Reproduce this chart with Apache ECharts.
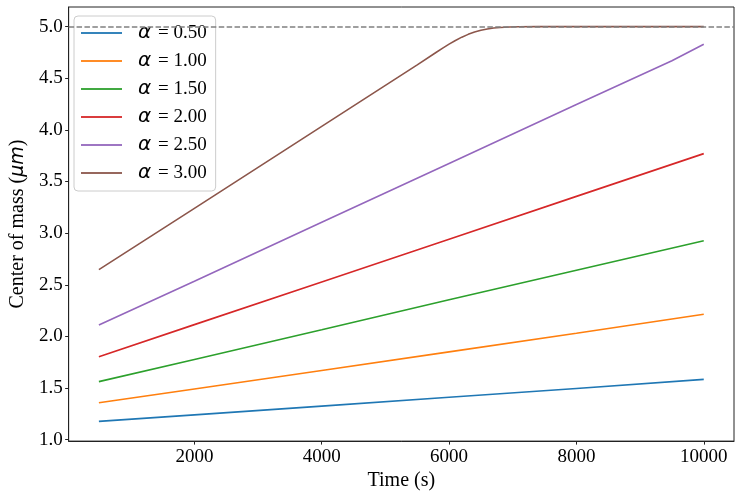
<!DOCTYPE html>
<html>
<head>
<meta charset="utf-8">
<script src="https://cdn.jsdelivr.net/npm/echarts@6/dist/echarts.min.js"></script>
<style>html,body{margin:0;padding:0;background:#fff}#c{width:741px;height:496px}</style>
</head>
<body>
<div id="c"></div>
<script>
const alphaLabels = ['0.50', '1.00', '1.50', '2.00', '2.50', '3.00'];
const xTicks = [2000, 4000, 6000, 8000, 10000];
const yTicks = [1.0, 1.5, 2.0, 2.5, 3.0, 3.5, 4.0, 4.5, 5.0];
const targetCenter = 5.0;

const tLinear = [500, 2000, 4000, 6000, 8000, 10000];
const alpha050 = [1.177, 1.240, 1.325, 1.410, 1.495, 1.584];
const alpha100 = [1.358, 1.490, 1.670, 1.850, 2.030, 2.214];
const alpha150 = [1.562, 1.777, 2.065, 2.355, 2.640, 2.927];
const alpha200 = [1.804, 2.114, 2.527, 2.940, 3.356, 3.770];
const tAlpha250 = [500, 2000, 4000, 6000, 8000, 9500, 10000];
const alpha250 = [2.111, 2.535, 3.105, 3.675, 4.245, 4.670, 4.829];
const tAlpha300 = [500, 2000, 4000, 5500, 5800, 5900, 6000, 6100, 6200, 6300, 6400, 6500, 6600, 6700, 6800, 6950, 7100, 7400, 8000, 10000];
const alpha300 = [2.646, 3.240, 4.034, 4.629, 4.752, 4.792, 4.830, 4.866, 4.898, 4.925, 4.947, 4.964, 4.977, 4.986, 4.992, 4.997, 4.999, 5.0, 5.0, 5.0];

const colors = ['#1f77b4', '#ff7f0e', '#2ca02c', '#d62728', '#9467bd', '#8c564b'];
const serif = "'Liberation Serif', 'Times New Roman', serif";

function pairs(xs, ys) { return xs.map((x, i) => [x, ys[i]]); }
const seriesData = [
  pairs(tLinear, alpha050),
  pairs(tLinear, alpha100),
  pairs(tLinear, alpha150),
  pairs(tLinear, alpha200),
  pairs(tAlpha250, alpha250),
  pairs(tAlpha300, alpha300)
];

const series = seriesData.map((d, i) => ({
  name: alphaLabels[i],
  type: 'line',
  data: d,
  symbol: 'none',
  showSymbol: false,
  smooth: false,
  lineStyle: { color: colors[i], width: 1.6 },
  itemStyle: { color: colors[i] },
  z: 2
}));
series[5].markLine = {
  silent: true,
  symbol: 'none',
  label: { show: false },
  lineStyle: { color: '#808080', type: [5.5, 2.4], width: 1.5 },
  data: [{ yAxis: targetCenter }],
  animation: false
};

const chart = echarts.init(document.getElementById('c'), null, { renderer: 'canvas' });
chart.setOption({
  animation: false,
  backgroundColor: '#fff',
  grid: { left: 64, top: 7, right: 7, bottom: 54, show: true, borderColor: '#222', borderWidth: 1, backgroundColor: 'transparent' },
  xAxis: {
    type: 'value', min: 25, max: 10475,
    name: 'Time (s)', nameLocation: 'middle', nameGap: 25,
    nameTextStyle: { fontFamily: serif, fontSize: 20, color: '#000' },
    axisLine: { show: true, onZero: false, lineStyle: { color: '#222', width: 1 } },
    axisTick: { show: true, length: 3.5, customValues: xTicks, lineStyle: { color: '#222' } },
    axisLabel: { customValues: xTicks, formatter: v => String(v), fontFamily: serif, fontSize: 19, color: '#000', margin: 6 },
    splitLine: { show: false }
  },
  yAxis: {
    type: 'value', min: 0.986, max: 5.19,
    name: '{t|Center of mass (}{i|μm}{t|)}', nameLocation: 'middle', nameGap: 40,
    nameTextStyle: {
      rich: {
        t: { fontFamily: serif, fontSize: 20, color: '#000' },
        i: { fontFamily: 'DejaVu Sans', fontStyle: 'italic', fontSize: 19, color: '#000' }
      }
    },
    axisLine: { show: true, onZero: false, lineStyle: { color: '#222', width: 1 } },
    axisTick: { show: true, length: 3.5, customValues: yTicks, lineStyle: { color: '#222' } },
    axisLabel: { customValues: yTicks, formatter: v => v.toFixed(1), fontFamily: serif, fontSize: 19, color: '#000', margin: 6 },
    splitLine: { show: false }
  },
  legend: {
    left: 74, top: 16,
    orient: 'vertical',
    icon: 'rect',
    itemWidth: 41, itemHeight: 2, itemGap: 8,
    padding: [7, 9, 8, 7],
    backgroundColor: 'rgba(255,255,255,0.8)',
    borderColor: '#cccccc', borderWidth: 1, borderRadius: 4,
    data: alphaLabels.map((n, i) => ({ name: n, itemStyle: { color: colors[i], opacity: 0.9 } })),
    formatter: n => '{a|α} {b|= ' + n + '}',
    textStyle: {
      fontFamily: serif, fontSize: 19, color: '#000', lineHeight: 19, padding: [0, 0, 0, 11],
      rich: {
        a: { fontFamily: 'DejaVu Sans', fontStyle: 'italic', fontSize: 20, lineHeight: 19, color: '#000', padding: [0, 2, 0, 0] },
        b: { fontFamily: serif, fontSize: 19, lineHeight: 19, color: '#000' }
      }
    }
  },
  series: series
});
</script>
</body>
</html>
